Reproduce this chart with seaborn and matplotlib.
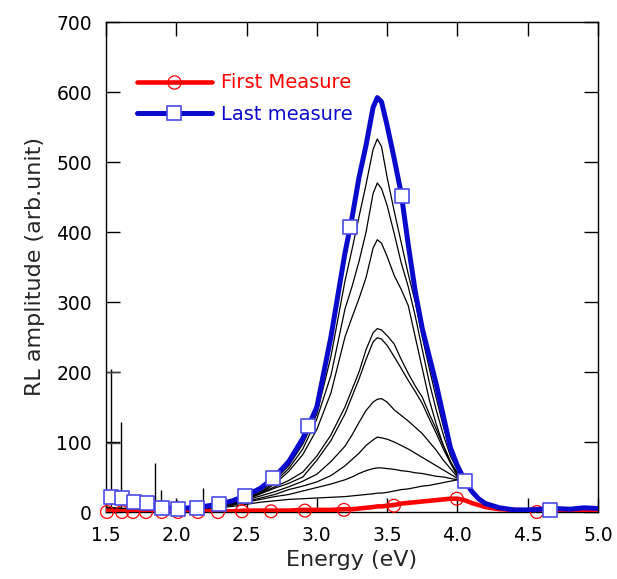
import numpy as np
import pandas as pd
import matplotlib
matplotlib.use("Agg")
import matplotlib.pyplot as plt
from matplotlib.lines import Line2D
import seaborn as sns

# ---------------- data ----------------
energy = [1.50, 1.60, 1.70, 1.80, 1.90, 2.00, 2.10, 2.20, 2.30, 2.40,
          2.50, 2.60, 2.70, 2.80, 2.90, 3.00, 3.10, 3.20, 3.25, 3.30,
          3.35, 3.40, 3.43, 3.46, 3.50, 3.55, 3.60, 3.65, 3.70, 3.75,
          3.80, 3.85, 3.90, 3.95, 4.00, 4.05, 4.10, 4.15, 4.20, 4.30,
          4.40, 4.50, 4.60, 4.70, 4.80, 4.90, 5.00]

last_measure = [20, 18, 14, 12, 7, 5, 6, 8, 11, 16,
                24, 34, 50, 72, 105, 150, 250, 370, 420, 478,
                524, 578, 592, 586, 552, 505, 455, 382, 315, 262,
                222, 182, 137, 92, 66, 46, 30, 19, 12, 6,
                3, 3, 4, 5, 4, 6, 5]

first_measure = [2, 1, 1, 1, 1, 1, 1, 1, 1, 1,
                 2, 2, 2, 2, 3, 3, 3, 4, 4, 5,
                 6, 7, 8, 8, 9, 10, 12, 13, 14, 15,
                 16, 17, 18, 19, 19, 17, 13, 10, 7, 4,
                 3, 2, 2, 2, 2, 2, 2]

mid_1 = [6, 5, 5, 4, 4, 4, 5, 6, 8, 12,
         20, 30, 46, 66, 97, 140, 222, 330, 375, 422,
         468, 518, 533, 522, 478, 430, 385, 340, 300, 250,
         205, 162, 122, 85, 62, 45, 30, 19, 12, 6,
         4, 3, 3, 3, 3, 3, 3]
mid_2 = [6, 5, 5, 4, 4, 4, 5, 6, 8, 12,
         19, 28, 43, 62, 90, 133, 195, 290, 322, 358,
         400, 455, 470, 462, 438, 398, 356, 322, 280, 232,
         185, 145, 110, 80, 60, 44, 30, 19, 12, 6,
         4, 3, 3, 3, 3, 3, 3]
mid_3 = [6, 5, 5, 4, 4, 4, 5, 6, 8, 12,
         18, 27, 40, 58, 82, 118, 170, 250, 278, 305,
         335, 377, 389, 384, 365, 338, 318, 295, 250, 205,
         160, 125, 95, 72, 56, 44, 30, 19, 12, 6,
         4, 3, 3, 3, 3, 3, 3]
mid_4 = [5, 5, 4, 4, 4, 4, 5, 6, 8, 12,
         19, 27, 36, 45, 57, 80, 110, 150, 175, 200,
         232, 256, 262, 260, 252, 240, 218, 198, 180, 164,
         140, 118, 95, 72, 52, 44, 30, 19, 12, 6,
         4, 3, 3, 3, 3, 3, 3]
mid_5 = [5, 5, 4, 4, 4, 4, 5, 6, 8, 12,
         18, 26, 34, 41, 50, 74, 102, 140, 165, 190,
         218, 243, 249, 247, 238, 222, 205, 188, 172, 155,
         133, 112, 90, 70, 52, 44, 30, 19, 12, 6,
         4, 3, 3, 3, 3, 3, 3]
mid_6 = [5, 5, 4, 4, 4, 4, 5, 6, 8, 11,
         17, 23, 29, 36, 44, 54, 72, 94, 110, 128,
         145, 157, 161, 162, 157, 146, 138, 130, 121, 112,
         100, 88, 74, 62, 50, 44, 30, 19, 12, 6,
         4, 3, 3, 3, 3, 3, 3]
mid_7 = [5, 5, 4, 4, 4, 4, 5, 6, 7, 10,
         15, 20, 25, 32, 37, 43, 52, 66, 75, 84,
         95, 103, 107, 106, 104, 100, 95, 90, 84, 78,
         72, 66, 60, 54, 48, 44, 30, 19, 12, 6,
         4, 3, 3, 3, 3, 3, 3]
mid_8 = [5, 5, 4, 4, 4, 4, 5, 6, 7, 10,
         14, 18, 22, 25, 30, 35, 40, 46, 50, 55,
         59, 62, 63, 63, 62, 61, 59, 58, 56, 55,
         53, 51, 50, 48, 46, 44, 30, 19, 12, 6,
         4, 3, 3, 3, 3, 3, 3]
mid_9 = [4, 4, 4, 4, 4, 4, 5, 5, 6, 8,
         11, 14, 16, 18, 19, 20, 21, 22, 23, 24,
         25, 26, 27, 27, 28, 30, 32, 33, 35, 37,
         38, 40, 42, 44, 46, 45, 30, 19, 12, 6,
         4, 3, 3, 3, 3, 3, 3]

# noise spikes of the intermediate spectra
spike_energy = [1.536, 1.607, 1.849, 1.891, 2.005, 2.190]
spike_top = [204, 128, 70, 32, 17, 34]
spike_base = 5
cap_level = [200, 98]
cap_start, cap_end = 1.505, 1.600

# marker positions (every Nth spectrometer point)
first_mark_energy = [1.507, 1.614, 1.692, 1.785, 1.898, 2.012, 2.154, 2.297,
                     2.467, 2.674, 2.915, 3.193, 3.548, 3.996, 4.565]
first_mark_value = [0, 0, 0, 0, 0, 0, 0, 0, 1, 1, 2, 3, 9, 19, 0]
last_mark_energy = [1.536, 1.614, 1.699, 1.790, 1.898, 2.012, 2.147, 2.304,
                    2.489, 2.688, 2.937, 3.235, 3.605, 4.053, 4.658]
last_mark_value = [21, 20, 14, 13, 6, 4, 6, 11, 23, 48, 123, 407, 451, 45, 3]

x_ticks = [1.5, 2.0, 2.5, 3.0, 3.5, 4.0, 4.5, 5.0]
y_ticks = [0, 100, 200, 300, 400, 500, 600, 700]

# ---------------- style ----------------
sns.set_theme(style="ticks")
plt.rcParams["font.family"] = ["DejaVu Sans"]
RED = "#ff0000"
BLUE = "#0a0acc"
BLUE_EDGE = "#4a4ae6"

fig = plt.figure(figsize=(6.17, 5.79), dpi=100)
ax = fig.add_axes([106 / 617, 1 - 512 / 579, 492 / 617, 490 / 579])

mids = [mid_1, mid_2, mid_3, mid_4, mid_5, mid_6, mid_7, mid_8, mid_9]
long = pd.DataFrame({
    "energy": np.tile(energy, len(mids)),
    "value": np.concatenate(mids),
    "run": np.repeat(np.arange(len(mids)), len(energy)),
})
sns.lineplot(data=long, x="energy", y="value", units="run", estimator=None,
             color="black", lw=0.9, ax=ax, zorder=2, legend=False)

ax.vlines(spike_energy, spike_base, spike_top, color="black", lw=1.0, zorder=2)
ax.hlines(cap_level, cap_start, cap_end, color="#444444", lw=1.0, zorder=2)

sns.lineplot(x=energy, y=first_measure, color=RED, lw=3.3, ax=ax, zorder=3)
sns.scatterplot(x=first_mark_energy, y=first_mark_value, marker="o", s=85,
                facecolor="none", edgecolor=RED, linewidth=0.9, ax=ax, zorder=4,
                clip_on=False)
sns.lineplot(x=energy, y=last_measure, color=BLUE, lw=3.6, ax=ax, zorder=5)
sns.scatterplot(x=last_mark_energy, y=last_mark_value, marker="s", s=90,
                facecolor="white", edgecolor=BLUE_EDGE, linewidth=1.2, ax=ax, zorder=6,
                clip_on=False)

ax.set_xlim(1.5, 5.0)
ax.set_ylim(0, 700)
ax.set_xticks(x_ticks)
ax.set_xticklabels([f"{t:.1f}" for t in x_ticks])
ax.set_yticks(y_ticks)
ax.tick_params(direction="in", length=10, width=1.0, top=True, right=True,
               labelsize=13.5, pad=10, colors="black")
for sp in ax.spines.values():
    sp.set_visible(True)
    sp.set_linewidth(1.0)
    sp.set_color("black")

ax.set_xlabel("Energy (eV)", fontsize=16, labelpad=4)
ax.set_ylabel("RL amplitude (arb.unit)", fontsize=16, labelpad=8)

handles = [
    Line2D([], [], color=RED, lw=3.3, marker="o", markersize=9.5,
           markerfacecolor="none", markeredgecolor=RED, markeredgewidth=0.9),
    Line2D([], [], color=BLUE, lw=3.6, marker="s", markersize=9.5,
           markerfacecolor="white", markeredgecolor=BLUE_EDGE, markeredgewidth=1.2),
]
ax.legend(handles, ["First Measure", "Last measure"], loc="upper left",
          bbox_to_anchor=(0.063, 0.895), frameon=False, fontsize=14,
          handlelength=3.85, handletextpad=0.45, labelspacing=0.62,
          borderpad=0, borderaxespad=0, labelcolor="linecolor")

fig.savefig("out.png", dpi=100)
